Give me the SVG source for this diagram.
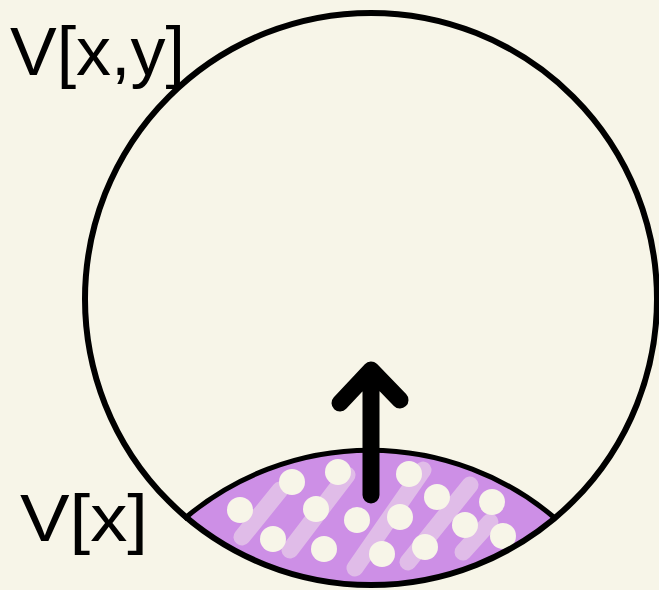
<svg xmlns="http://www.w3.org/2000/svg" width="659" height="590" viewBox="0 0 659 590">
<style>
.lbl{font-family:"Liberation Sans","DejaVu Sans",sans-serif;fill:#000}
.streak{stroke:#e0bce8;stroke-width:17;stroke-linecap:round;fill:none}
.dot{fill:#f7f5e8}
</style>
<defs>
<clipPath id="lensClip"><path d="M186,517 A286,286 0 0 1 556,517 A286,286 0 0 1 186,517 Z"/></clipPath>
</defs>
<rect width="659" height="590" fill="#f7f5e8"/>
<g id="vx">
<path d="M186,517 A286,286 0 0 1 556,517 A286,286 0 0 1 186,517 Z" fill="#cd8fe6"/>
<g clip-path="url(#lensClip)">
<line class="streak" x1="242" y1="537" x2="280" y2="490"/>
<line class="streak" x1="290" y1="550" x2="347" y2="475"/>
<line class="streak" x1="355" y1="568" x2="423" y2="470"/>
<line class="streak" x1="408" y1="562" x2="470" y2="485"/>
<line class="streak" x1="463" y1="552" x2="490" y2="522"/>
<circle class="dot" cx="240" cy="510" r="13"/>
<circle class="dot" cx="292" cy="482" r="13"/>
<circle class="dot" cx="338" cy="472" r="13"/>
<circle class="dot" cx="316" cy="509" r="13"/>
<circle class="dot" cx="273" cy="539" r="13"/>
<circle class="dot" cx="324" cy="549" r="13"/>
<circle class="dot" cx="357" cy="520" r="13"/>
<circle class="dot" cx="409" cy="474" r="13"/>
<circle class="dot" cx="400" cy="517" r="13"/>
<circle class="dot" cx="382" cy="554" r="13"/>
<circle class="dot" cx="437" cy="497" r="13"/>
<circle class="dot" cx="425" cy="547" r="13"/>
<circle class="dot" cx="465" cy="525" r="13"/>
<circle class="dot" cx="492" cy="502" r="13"/>
<circle class="dot" cx="503" cy="536" r="13"/>
</g>
<path d="M184,519 A286,286 0 0 1 556,519" fill="none" stroke="#000" stroke-width="5"/>
<text class="lbl" x="20" y="541" font-size="66" textLength="128" lengthAdjust="spacingAndGlyphs">V[x]</text>
</g>
<g id="vxy">
<circle cx="371" cy="299" r="286" fill="none" stroke="#000" stroke-width="6"/>
<text class="lbl" x="10" y="75" font-size="68" textLength="175" lengthAdjust="spacingAndGlyphs">V[x,y]</text>
</g>
<g id="connectors">
<path d="M371,495 V372 M340,403 L371,370 L400,400" fill="none" stroke="#000" stroke-width="17" stroke-linecap="round" stroke-linejoin="round"/>
</g>
</svg>
